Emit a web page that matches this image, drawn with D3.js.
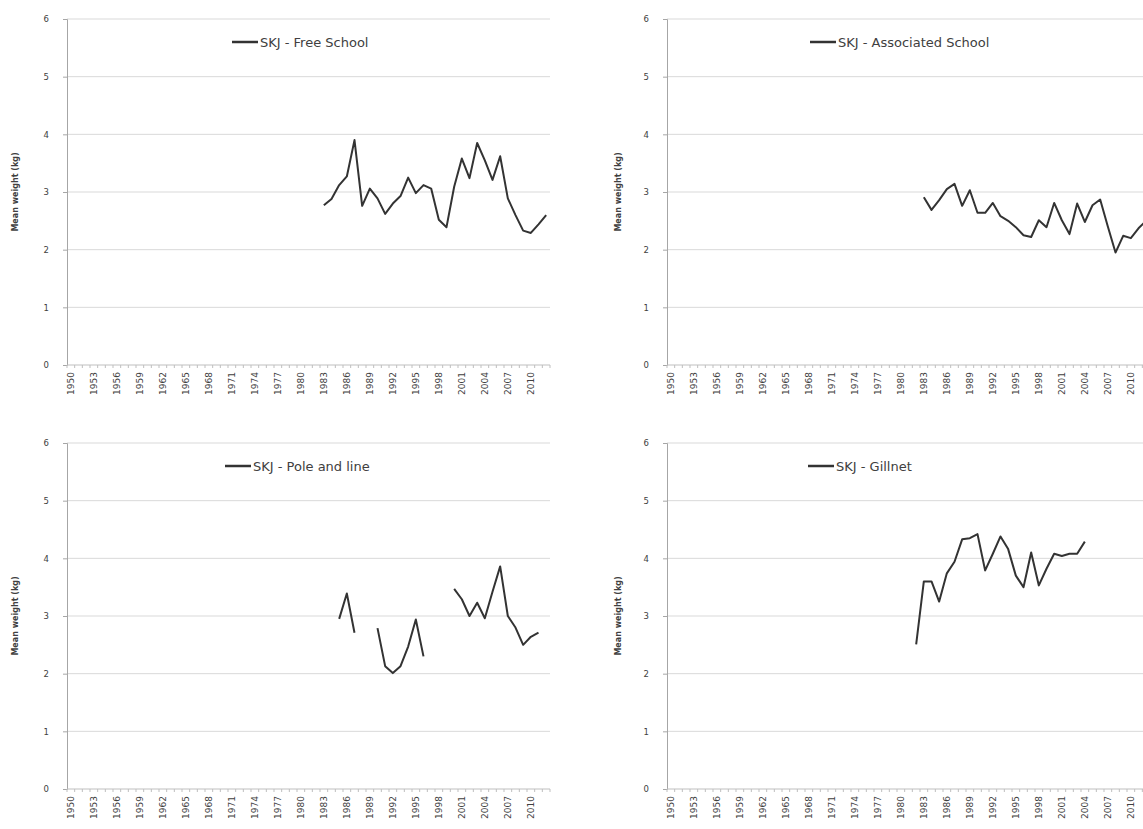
<!DOCTYPE html>
<html><head><meta charset="utf-8">
<script src="https://cdn.jsdelivr.net/npm/d3@7"></script>
<style>
body{margin:0;background:#fff;}
svg{display:block;}
text{font-family:"DejaVu Sans","Liberation Sans",sans-serif;fill:#404040;}
</style></head>
<body>
<svg id="c" width="1143" height="829"></svg>
<script>
// Categories and tick labels
const years = d3.range(1950, 2013);
const tickLabels = [1950,1953,1956,1959,1962,1965,1968,1971,1974,1977,1980,1983,1986,1989,1992,1995,1998,2001,2004,2007,2010];
const yTicks = [0,1,2,3,4,5,6];

// Series (value per year starting at the given start year; null = no data)
const freeSchoolStart = 1983;
const freeSchool = [2.77,2.88,3.12,3.27,3.90,2.76,3.06,2.89,2.62,2.80,2.93,3.25,2.98,3.12,3.06,2.52,2.39,3.09,3.58,3.24,3.85,3.55,3.21,3.62,2.89,2.60,2.33,2.29,2.44,2.60];

const associatedStart = 1983;
const associated = [2.91,2.69,2.86,3.05,3.14,2.76,3.03,2.64,2.64,2.81,2.58,2.50,2.39,2.25,2.22,2.51,2.39,2.81,2.51,2.27,2.80,2.48,2.77,2.87,2.40,1.95,2.24,2.20,2.37,2.50];

const poleLineStart = 1985;
const poleLine = [2.95,3.39,2.71,null,null,2.79,2.13,2.01,2.13,2.47,2.94,2.30,null,null,null,3.47,3.29,3.00,3.23,2.96,3.42,3.86,3.00,2.80,2.50,2.64,2.71];

const gillnetStart = 1982;
const gillnet = [2.51,3.60,3.60,3.25,3.74,3.94,4.33,4.35,4.42,3.79,4.08,4.38,4.16,3.70,3.50,4.10,3.53,3.82,4.08,4.04,4.08,4.08,4.29];

const panels = [
  {name:"SKJ - Free School", start:freeSchoolStart, values:freeSchool, ax:67, top:19, legX:232, titleX:15},
  {name:"SKJ - Associated School", start:associatedStart, values:associated, ax:667, top:19, legX:810, titleX:618},
  {name:"SKJ - Pole and line", start:poleLineStart, values:poleLine, ax:67, top:443, legX:225, titleX:15},
  {name:"SKJ - Gillnet", start:gillnetStart, values:gillnet, ax:667, top:443, legX:808, titleX:618}
];

const svg = d3.select("#c");
const plotW = 483, plotH = 346;

panels.forEach(p => {
  const g = svg.append("g");
  const x = d3.scaleBand().domain(years).range([p.ax, p.ax + plotW]);
  const y = d3.scaleLinear().domain([0,6]).range([p.top + plotH, p.top]);

  // gridlines
  g.selectAll(".grid").data(yTicks.filter(t => t > 0)).enter().append("line")
    .attr("x1", p.ax).attr("x2", p.ax + plotW)
    .attr("y1", d => y(d)).attr("y2", d => y(d))
    .attr("stroke", "#d9d9d9").attr("stroke-width", 1);

  // y axis
  const yAxis = d3.axisLeft(y).tickValues(yTicks).tickSize(4).tickPadding(14).tickFormat(d3.format("d"));
  const ya = g.append("g").attr("transform", `translate(${p.ax},0)`).call(yAxis);
  ya.select(".domain").attr("stroke", "#a6a6a6");
  ya.selectAll(".tick line").attr("stroke", "#a6a6a6");
  ya.selectAll(".tick text").attr("font-size", 8.5).attr("fill", "#404040")
    .style("font-family", "'DejaVu Sans','Liberation Sans',sans-serif");

  // x axis
  const xa = g.append("g").attr("transform", `translate(0,${p.top + plotH})`);
  xa.append("line").attr("x1", p.ax).attr("x2", p.ax + plotW).attr("y1", 0).attr("y2", 0)
    .attr("stroke", "#bfbfbf");
  xa.selectAll(".bt").data(years.concat([null])).enter().append("line")
    .attr("x1", d => d == null ? p.ax + plotW : x(d))
    .attr("x2", d => d == null ? p.ax + plotW : x(d))
    .attr("y1", 0).attr("y2", 3).attr("stroke", "#bfbfbf");
  xa.selectAll(".xl").data(tickLabels).enter().append("text")
    .attr("transform", d => `translate(${x(d) + x.bandwidth()/2 + 3.5},${7}) rotate(-90)`)
    .attr("text-anchor", "end").attr("font-size", 9).attr("fill", "#404040")
    .text(d => d);

  // y title
  g.append("text")
    .attr("transform", `translate(${p.titleX + 3},${p.top + plotH/2}) rotate(-90)`)
    .attr("text-anchor", "middle").attr("font-size", 8).attr("font-weight", "bold")
    .attr("fill", "#404040").text("Mean weight (kg)");

  // series
  const data = p.values.map((v, i) => ({year: p.start + i, v}));
  const line = d3.line().defined(d => d.v != null)
    .x(d => x(d.year) + x.bandwidth()/2).y(d => y(d.v));
  g.append("path").datum(data).attr("d", line)
    .attr("fill", "none").attr("stroke", "#333").attr("stroke-width", 2)
    .attr("stroke-linejoin", "round");

  // legend
  const ly = p.top + 23;
  g.append("line").attr("x1", p.legX).attr("x2", p.legX + 26).attr("y1", ly).attr("y2", ly)
    .attr("stroke", "#333").attr("stroke-width", 2.5);
  g.append("text").attr("x", p.legX + 28).attr("y", ly + 4.5)
    .attr("font-size", 13).attr("fill", "#333").text(p.name);
});
</script>
</body></html>
